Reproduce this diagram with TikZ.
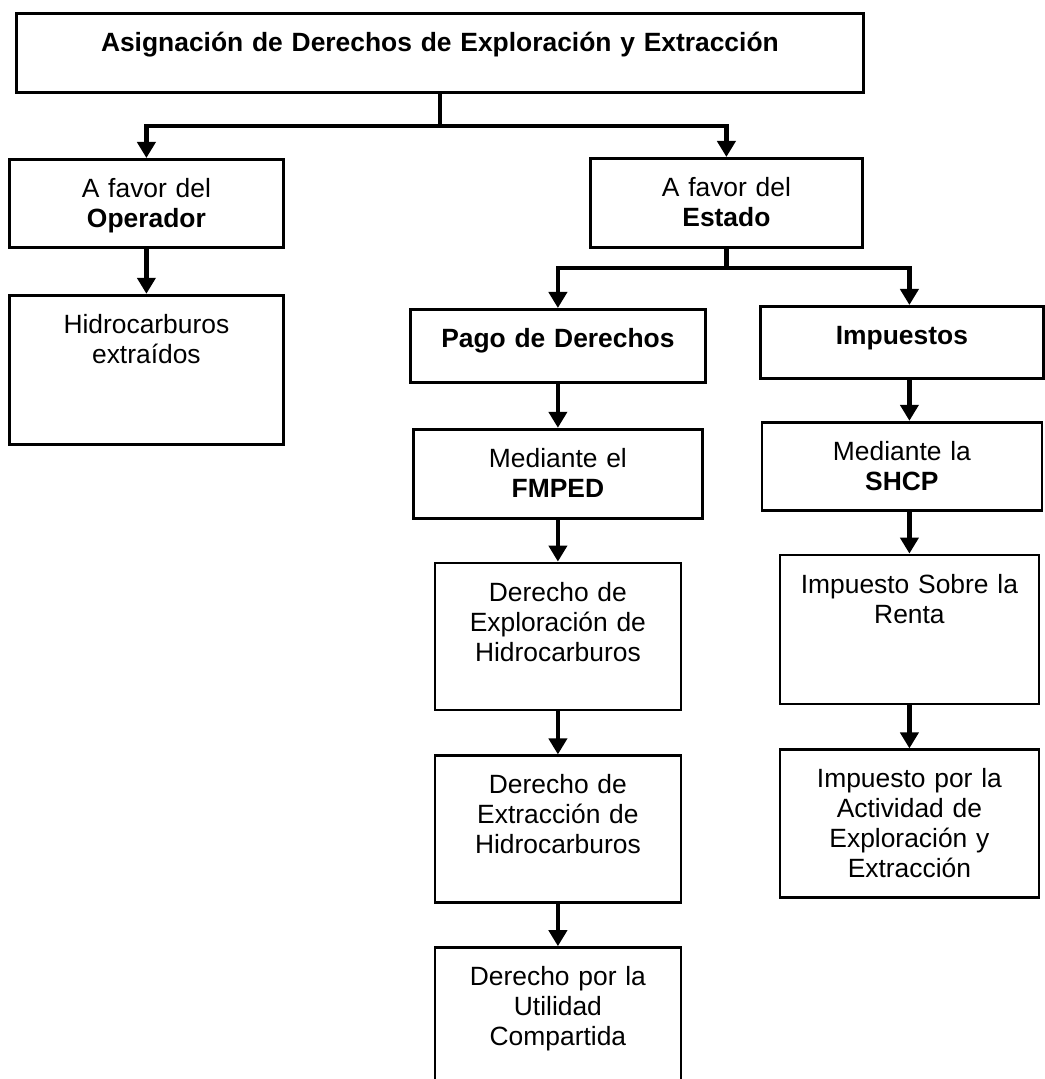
\documentclass[tikz,border=0pt]{standalone}
\usepackage{fontspec}
\setmainfont{Liberation Sans}
\usetikzlibrary{arrows.meta, positioning}
\tikzset{
  box/.style={draw=black,line width=1.4pt,fill=white,inner xsep=4pt,inner ysep=6pt,
    text height=13pt,align=center,font=\fontsize{13.2}{15}\selectfont},
  stem/.style={line width=2.2pt},
  conn/.style={stem,-{Triangle[width=9pt,length=8pt]}},
}

\begin{document}
\begin{tikzpicture}[x=0.5pt,y=-0.5pt]
	    \useasboundingbox (0,0) rectangle (1044,1079);
	    \node[box,anchor=north west,text width=415.5pt,text depth=14.5pt] (T) at (15,12)
	    	{\textbf{Asignación de Derechos de Exploración y Extracción}};
	    % rama del operador
	    \node[box,anchor=north west,text width=129pt,text depth=19pt] (Op) at (8,158) {A favor del\\\textbf{Operador}};
	    \node[box,below=22.5pt of Op,text width=129pt,text depth=49.5pt] (Hc) {Hidrocarburos\\extraídos};
	    % rama del estado
	    \node[box,anchor=north west,text width=128pt,text depth=19.5pt] (Est) at (589,157) {A favor del\\\textbf{Estado}};
	    \node[box,anchor=north west,text width=139.5pt,text depth=11.5pt] (Pago) at (409,308) {\textbf{Pago de Derechos}};
	    \node[box,below=22pt of Pago,text width=136.5pt,text depth=19.5pt] (Fmped) {Mediante el\\\textbf{FMPED}};
	    \node[box,below=21pt of Fmped,text width=115pt,text depth=48.5pt] (DExp) {Derecho de\\Exploración de\\Hidrocarburos};
	    \node[box,below=21.5pt of DExp,text width=115pt,text depth=48.5pt] (DExt) {Derecho de\\Extracción de\\Hidrocarburos};
	    \node[box,below=21pt of DExt,text width=115pt,text depth=46pt] (DUt) {Derecho por la\\Utilidad\\Compartida};
	    \node[box,anchor=north west,text width=133.5pt,text depth=11pt] (Imp) at (759,305) {\textbf{Impuestos}};
	    \node[box,below=20.5pt of Imp,text width=132pt,text depth=19pt] (Shcp) {Mediante la\\\textbf{SHCP}};
	    \node[box,below=21pt of Shcp,xshift=3.75pt,text width=121.5pt,text depth=49.5pt] (ISR) {Impuesto Sobre la\\Renta};
	    \node[box,below=21.5pt of ISR,text width=121.5pt,text depth=49pt] (IAEE) {Impuesto por la\\Actividad de\\Exploración y\\Extracción};
	    % conectores
	    \coordinate[below=16pt of T.south] (j1);
	    \coordinate[below=9.5pt of Est.south] (j2);
	    \draw[stem] (T) -- (j1);
	    \draw[conn] (j1) -| (Op);
	    \draw[conn] (j1) -| (Est);
	    \draw[conn] (Op) -- (Hc);
	    \draw[stem] (Est) -- (j2);
	    \draw[conn] (j2) -| (Pago);
	    \draw[conn] (j2) -| (Imp.north -| ISR);
	    \draw[conn] (Pago) -- (Fmped);
	    \draw[conn] (Fmped) -- (DExp);
	    \draw[conn] (DExp) -- (DExt);
	    \draw[conn] (DExt) -- (DUt);
	    \draw[conn] (Imp.south -| ISR) -- (Shcp.north -| ISR);
	    \draw[conn] (Shcp.south -| ISR) -- (ISR);
	    \draw[conn] (ISR) -- (IAEE);
	\end{tikzpicture}
\end{document}
